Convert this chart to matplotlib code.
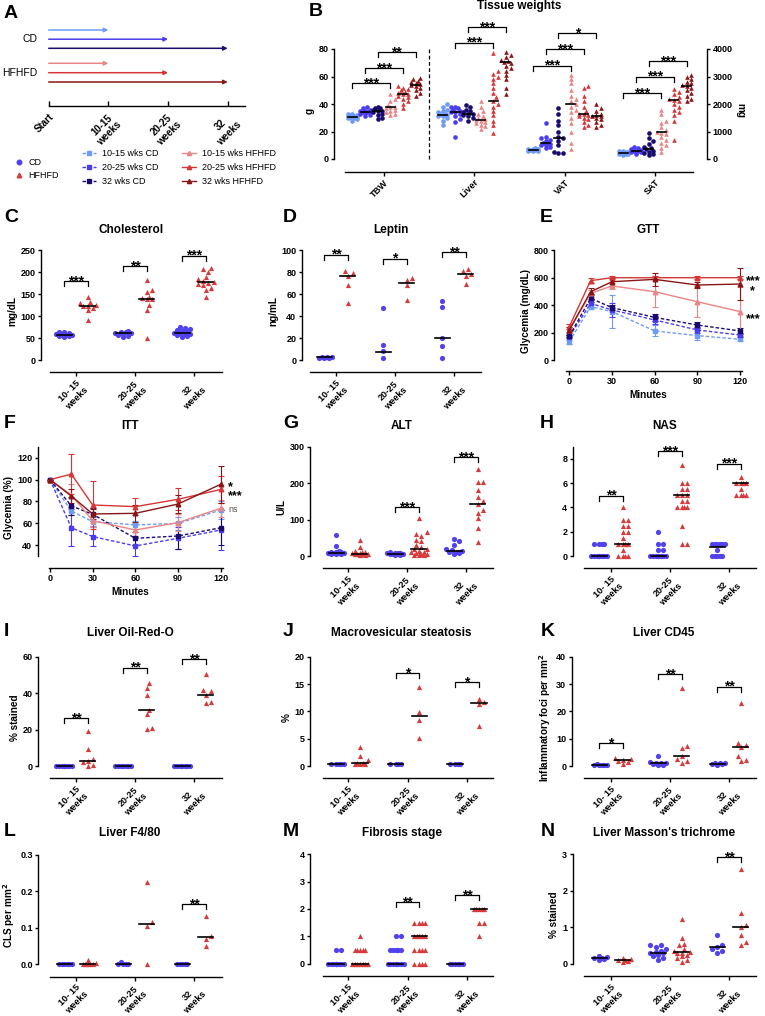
import numpy as np
import matplotlib.pyplot as plt
from matplotlib.lines import Line2D

plt.rcParams['font.family'] = ['Liberation Sans', 'DejaVu Sans']
plt.rcParams['font.weight'] = 'bold'
plt.rcParams['axes.labelweight'] = 'bold'
plt.rcParams['axes.linewidth'] = 1.0
plt.rcParams['xtick.major.width'] = 1.0
plt.rcParams['ytick.major.width'] = 1.0
plt.rcParams['xtick.labelsize'] = 6.5
plt.rcParams['ytick.labelsize'] = 6.5
plt.rcParams['ytick.major.size'] = 2.4
plt.rcParams['xtick.major.size'] = 3
plt.rcParams['ytick.major.pad'] = 1.5
plt.rcParams['xtick.major.pad'] = 1.2

W, H = 765, 1016

# colours
C_CD10, C_CD20, C_CD32 = '#6f9bf5', '#4b3cf0', '#1a0c6e'
C_HF10, C_HF20, C_HF32 = '#e98585', '#d53636', '#8a1515'
C_CD, C_HF = '#5142ee', '#d63a3a'

groups = ['10- 15\nweeks', '20-25\nweeks', '32\nweeks']
series_names = ['10-15 wks CD', '20-25 wks CD', '32 wks CD',
                '10-15 wks HFHFD', '20-25 wks HFHFD', '32 wks HFHFD']

# ---------------- A: timeline
a_ticks = ['Start', '10-15\nweeks', '20-25\nweeks', '32\nweeks']
a_ends = [1, 2, 3]

# ---------------- B: tissue weights (TBW in g, others in mg)
b_cats = ['TBW', 'Liver', 'VAT', 'SAT']
b_tbw = [[28, 29, 29.5, 30, 30, 30.5, 30.5, 31, 31, 31.5, 32, 32, 33, 33],
         [31, 32, 33, 33.5, 34, 34, 34.5, 35, 35, 36, 37, 38],
         [29, 30, 32, 33, 34, 35, 35, 36, 37, 37, 38],
         [32, 33, 34, 35, 36, 37, 37.5, 38, 39, 42, 44, 47],
         [37, 40, 42, 44, 45, 46, 47, 47.5, 48, 49, 50, 51, 52, 53],
         [46, 48, 50, 52, 53, 54, 54.5, 55, 56, 57, 58, 59]]
b_liver = [[1250, 1400, 1500, 1550, 1575, 1600, 1625, 1650, 1700, 1750, 1800, 1900, 2000],
           [800, 1350, 1450, 1550, 1650, 1700, 1700, 1750, 1800, 1850, 1900, 1900],
           [1400, 1500, 1550, 1600, 1650, 1650, 1700, 1750, 1800, 1900, 1950],
           [1100, 1200, 1250, 1300, 1350, 1400, 1425, 1450, 1500, 1550, 1650, 1750, 1900, 2100],
           [950, 1250, 1400, 1600, 1750, 1900, 2000, 2125, 2250, 2400, 2600, 2750, 2900, 3000, 3100, 3200, 3850],
           [2350, 2600, 2900, 3050, 3200, 3300, 3400, 3500, 3525, 3550, 3600, 3700, 3800, 3900]]
b_vat = [[275, 300, 300, 325, 325, 350, 350, 375, 400],
         [400, 450, 500, 525, 550, 600, 600, 650, 700, 750, 800, 1300],
         [225, 225, 250, 500, 650, 750, 800, 1000, 1250, 1400, 1650, 1850],
         [350, 600, 1000, 1300, 1500, 1700, 1800, 1900, 2000, 2100, 2200, 2300, 2500, 2750, 2900, 3050],
         [1150, 1250, 1350, 1450, 1500, 1550, 1600, 1625, 1650, 1750, 1900, 2100, 2300, 2600, 2650],
         [1150, 1250, 1350, 1450, 1500, 1550, 1550, 1600, 1650, 1750, 1850, 2000]]
b_sat = [[150, 175, 200, 200, 225, 225, 250, 250, 275, 300],
         [200, 250, 250, 275, 300, 300, 325, 350, 400, 450],
         [150, 200, 225, 250, 300, 350, 400, 450, 550, 650, 750, 950],
         [250, 400, 500, 600, 700, 800, 900, 950, 1000, 1050, 1150, 1300, 1400, 1650, 1800],
         [700, 1400, 1600, 1700, 1800, 1900, 2000, 2100, 2150, 2200, 2250, 2350, 2450, 2550],
         [2100, 2200, 2300, 2400, 2500, 2600, 2650, 2700, 2750, 2800, 2900, 3000, 3050]]
b_med = [[30.5, 34, 35, 37.5, 47.5, 54],
         [1600, 1700, 1650, 1425, 2125, 3525],
         [325, 600, 750, 2000, 1625, 1550],
         [225, 300, 350, 1000, 2150, 2650]]
# brackets: (category, group from, group to, height, stars)
b_brk = [(0, 0, 3, 55, '***'), (0, 1, 4, 66, '***'), (0, 2, 5, 77.6, '**'),
         (1, 1, 4, 4230, '***'), (1, 2, 5, 4790, '***'),
         (2, 0, 3, 3390, '***'), (2, 1, 4, 3990, '***'), (2, 2, 5, 4570, '*'),
         (3, 0, 3, 2400, '***'), (3, 1, 4, 2990, '***'), (3, 2, 5, 3570, '***')]

# ---------------- C: cholesterol
chol_cd = [[52, 54, 55, 56, 57, 58, 60, 62, 63, 63],
           [52, 55, 58, 60, 62, 62, 63, 64, 65],
           [52, 55, 57, 59, 60, 62, 62, 64, 66, 68, 70, 73, 76]]
chol_hf = [[91, 114, 118, 122, 124, 126, 129, 133, 143],
           [51, 115, 125, 138, 140, 142, 143, 156, 160, 182],
           [143, 160, 165, 170, 173, 175, 178, 180, 185, 190, 200, 207, 209]]
chol_cd_med = [58, 62, 62]
chol_hf_med = [124, 140, 178]
chol_brk = [(180, '***'), (214, '**'), (238, '***')]

# ---------------- D: leptin
lep_cd = [[1.5, 2, 2, 2.5, 3, 3], [2, 8, 14, 47], [1.5, 13, 20, 48, 54]]
lep_hf = [[52, 68, 77, 79, 81], [55, 68, 73, 75], [69, 77, 78.5, 81, 82.5]]
lep_cd_med = [2.5, 7, 20]
lep_hf_med = [77, 70.5, 78.5]
lep_brk = [(96, '**'), (92.5, '*'), (98, '**')]

# ---------------- E: GTT
t_min = [0, 15, 30, 60, 90, 120]
gtt_mean = [[134, 389, 353, 212, 178, 151],
            [170, 413, 365, 292, 219, 182],
            [175, 450, 382, 311, 255, 212],
            [219, 486, 540, 498, 425, 353],
            [243, 579, 600, 600, 600, 600],
            [219, 498, 571, 588, 547, 554]]
gtt_err = [[15, 20, 120, 40, 30, 15],
           [10, 30, 50, 30, 20, 15],
           [10, 30, 20, 25, 20, 20],
           [20, 25, 20, 115, 115, 180],
           [20, 20, 10, 10, 10, 10],
           [20, 25, 30, 50, 20, 120]]
# significance labels at 120 min: (value, text)
gtt_sig = [(578, '***\n*'), (340, '***')]

# ---------------- F: ITT
itt_mean = [[100, 71.3, 61.6, 58.6, 60, 72.2],
            [100, 56, 48, 39.4, 46.4, 54],
            [100, 76, 68.3, 46.4, 48.5, 56],
            [100, 86, 62.5, 54, 60.7, 73.8],
            [100, 105, 76.8, 75.3, 82, 91],
            [100, 85, 68.6, 69.2, 77.7, 95.7]]
itt_err = [[0, 4, 4, 4, 6, 8],
           [0, 17, 9, 9, 10, 18],
           [0, 8, 6, 6, 12, 16],
           [0, 10, 6, 6, 8, 8],
           [0, 18, 22, 8, 10, 12],
           [0, 6, 5, 8, 8, 17]]
itt_sig = [(94.2, '*\n***'), (73, 'ns')]

# ---------------- G: ALT
alt_cd = [[5, 5, 6, 7, 8, 8, 9, 10, 10, 12, 15, 28, 57],
          [3, 4, 5, 5, 6, 6, 7, 7, 8, 9, 10],
          [5, 7, 10, 12, 14, 16, 20, 30, 40, 48]]
alt_hf = [[3, 4, 5, 5, 6, 6, 7, 8, 10, 12, 15, 25, 45],
          [2, 3, 4, 5, 6, 8, 10, 12, 15, 18, 20, 25, 30, 40, 45, 55, 60, 65, 105],
          [39, 76, 103, 117, 126, 142, 150, 161, 181, 204, 204, 240]]
alt_cd_med = [8, 6, 14]
alt_hf_med = [6, 18, 142]
alt_brk = [None, (135, '***'), (272, '***')]

# ---------------- H: NAS
nas_cd = [[0, 0, 0, 0, 0, 0, 0, 0, 0, 1, 1, 1, 1],
          [0, 0, 0, 0, 0, 0, 0, 0, 0.5, 0.5, 1, 1, 2],
          [0, 0, 0, 0, 0, 0.5, 1, 1, 1, 1, 1, 1]]
nas_hf = [[0, 0, 0, 0, 0.5, 1, 1, 1, 1, 1.5, 2, 2, 2.5, 2.5, 3, 3, 4],
          [1, 1, 2.5, 4, 4, 4, 4, 4.5, 4.5, 5, 5, 5, 5.5, 5.5, 6, 6, 7.5],
          [5, 5, 5, 5, 5.5, 6, 6, 6, 6, 6.5]]
nas_cd_med = [0, 0, 0.75]
nas_hf_med = [1, 5, 6]
nas_brk = [(4.96, '**'), (8.6, '***'), (7.6, '***')]

# ---------------- I: Oil-Red-O
oro_cd = [[0] * 8, [0] * 7, [0] * 7]
oro_hf = [[0, 0.5, 2, 3, 4, 9.5, 19],
          [20.5, 21, 28.5, 31, 39, 43, 45.5],
          [34.5, 35, 39, 41, 41.5, 50.5]]
oro_cd_med = [0, 0, 0]
oro_hf_med = [3, 31, 39]
oro_brk = [(26.2, '**'), (54, '**'), (58.6, '**')]

# ---------------- J: macrovesicular steatosis
mac_cd = [[0.3, 0.3, 0.4, 0.4, 0.4], [0.3, 0.4, 0.4, 0.4], [0.4, 0.4, 0.4, 0.4]]
mac_hf = [[0.3, 0.3, 0.3, 0.5, 0.6, 1.1, 1.9, 3.4],
          [5.1, 8.4, 9.8, 14.4],
          [7.4, 11.3, 11.7, 12.3]]
mac_cd_med = [0.4, 0.4, 0.4]
mac_hf_med = [0.6, 9.1, 11.5]
mac_brk = [None, (17, '*'), (15.4, '*')]

# ---------------- K: CD45
cd45_cd = [[0.2, 0.3, 0.4, 0.5, 0.5, 0.6],
           [0.3, 0.5, 0.8, 1, 1, 1.2, 1.5, 3.5],
           [0.5, 0.7, 0.8, 1, 1, 1.2]]
cd45_hf = [[0.8, 1.5, 2, 2.2, 2.5, 3],
           [1.2, 2, 2.5, 3.8, 6.5, 7.5, 28.5],
           [2, 2.2, 3.5, 6.8, 7.8, 8.3, 23.2]]
cd45_cd_med = [0.5, 1, 0.9]
cd45_hf_med = [2.1, 3.8, 6.8]
cd45_brk = [(8.3, '*'), (33.5, '**'), (29, '**')]

# ---------------- L: F4/80
f480_cd = [[0] * 6, [0, 0, 0, 0, 0.005], [0] * 5]
f480_hf = [[0, 0, 0, 0, 0, 0.003, 0.013],
           [0, 0.106, 0.116, 0.226],
           [0.051, 0.069, 0.078, 0.132]]
f480_cd_med = [0, 0, 0]
f480_hf_med = [0, 0.111, 0.074]
f480_brk = [None, None, (0.165, '**')]

# ---------------- M: fibrosis stage
fib_cd = [[0] * 10 + [0.5, 0.5], [0] * 8 + [0.5] * 5 + [1, 1], [0] * 6]
fib_hf = [[0] * 7 + [0.5] * 5 + [1],
          [0] * 4 + [0.5] * 4 + [1] * 5 + [1.5] * 4,
          [1, 1.5, 1.5, 2, 2, 2, 2, 2]]
fib_cd_med = [0, 0, 0]
fib_hf_med = [0, 1, 2]
fib_brk = [None, (2.25, '**'), (2.5, '**')]

# ---------------- N: Masson's trichrome
mas_cd = [[0.1, 0.12, 0.15, 0.15, 0.18, 0.2],
          [0.1, 0.15, 0.2, 0.25, 0.28, 0.3, 0.32, 0.35, 0.4, 0.45, 0.5, 0.52],
          [0.3, 0.35, 0.4, 0.45, 0.5, 0.8]]
mas_hf = [[0.05, 0.08, 0.1, 0.1, 0.12, 0.15],
          [0.05, 0.1, 0.15, 0.2, 0.25, 0.28, 0.3, 0.32, 0.35, 0.4, 0.5, 0.55, 0.7, 1.22],
          [0.5, 0.6, 0.8, 1.0, 1.05, 1.4, 2.6]]
mas_cd_med = [0.15, 0.3, 0.45]
mas_hf_med = [0.1, 0.31, 1.02]
mas_brk = [None, None, (2.92, '**')]

series_col = [C_CD10, C_CD20, C_CD32, C_HF10, C_HF20, C_HF32]
series_mk = ['s', 's', 's', '^', '^', '^']
DASH = (0, (2.5, 1.5))
series_ls = [DASH, DASH, DASH, '-', '-', '-']

fig = plt.figure(figsize=(W / 100, H / 100), dpi=100)


def axes_px(l, r, top, bot, xa, xb, ya, yb):
    ax = fig.add_axes([l / W, 1 - bot / H, (r - l) / W, (bot - top) / H])
    fx = lambda p: xa[1] + (p - xa[0]) * (xb[1] - xa[1]) / (xb[0] - xa[0])
    fy = lambda p: ya[1] + (p - ya[0]) * (yb[1] - ya[1]) / (yb[0] - ya[0])
    ax.set_xlim(fx(l), fx(r))
    ax.set_ylim(fy(bot), fy(top))
    ax.spines['top'].set_visible(False)
    ax.spines['right'].set_visible(False)
    return ax, fx, fy


def swarm(vals, upx, spx, d=4.8, wmax=9.0):
    # simple beeswarm: horizontal offsets (data units) so markers don't overlap
    cands = [0.0]
    step = d * 0.55
    k = 1
    while k * step <= wmax:
        cands += [k * step, -k * step]
        k += 1
    placed, offs = [], []
    for v in vals:
        y = v * upx
        best, bestd = 0.0, -1
        for c in cands:
            md = min([np.hypot(c - px, y - py) for px, py in placed] + [1e9])
            if md >= d * 0.95:
                best = c
                break
            if md > bestd:
                best, bestd = c, md
        placed.append((best, y))
        offs.append(best / spx)
    return np.array(offs)


def letter(x, y, s):
    fig.text(x / W, 1 - y / H, s, fontsize=14, weight='bold', ha='left', va='center')


def title(ax, y, s):
    bb = ax.get_position()
    fig.text((bb.x0 + bb.x1) / 2, 1 - y / H, s, fontsize=8.5, weight='bold',
             ha='center', va='center')


def bracket(ax, x1, x2, h, txt, u):
    dh = 5.0 / u
    ax.plot([x1, x1, x2, x2], [h - dh, h, h, h - dh], color='k', lw=0.9, clip_on=False)
    ax.annotate(txt, xy=((x1 + x2) / 2, h), xytext=(0, -3), textcoords='offset points',
                ha='center', va='baseline', fontsize=10, annotation_clip=False)


def cat_labels(ax, labels, fs=6.6):
    ax.set_xticks(range(len(labels)))
    ax.set_xticklabels(labels, rotation=45, ha='right', va='top', rotation_mode='anchor',
                       multialignment='center', fontsize=fs)


def dot_panel(lay, cd, hf, cd_med, hf_med, brk, yticks, ylab, ttl, let, fmt='{:g}',
              spine_top=None):
    yx, t1, t3, xl, xr, ytop, y0, xly, ymax = lay
    s = (t3 - t1) / 2.0
    u = (y0 - ytop) / ymax
    top_val = ymax if spine_top is None else spine_top
    top_px = y0 - top_val * u
    ax, fx, fy = axes_px(yx, xr, top_px, xly, (t1, 0), (t3, 2), (y0, 0), (ytop, ymax))
    ax.spines['left'].set_bounds(0, top_val)
    ax.spines['bottom'].set_bounds(fx(xl), fx(xr))
    ax.set_yticks(yticks)
    ax.set_yticklabels([fmt.format(v) for v in yticks])
    cat_labels(ax, groups)
    for i in range(3):
        for vals, med, off, col, mk in [(cd[i], cd_med[i], -0.2, C_CD, 'o'),
                                        (hf[i], hf_med[i], 0.2, C_HF, '^')]:
            v = np.array(vals, float)
            ax.scatter(i + off + swarm(v, u, s), v, s=14, color=col, marker=mk, lw=0,
                       clip_on=False, zorder=3)
            ax.plot([i + off - 0.13, i + off + 0.13], [med, med], color='k', lw=1.2,
                    zorder=4, clip_on=False)
        if brk[i] is not None:
            bracket(ax, i - 0.2, i + 0.2, brk[i][0], brk[i][1], u)
    ax.set_ylabel(ylab, fontsize=7.2, labelpad=2)
    title(ax, ttl[1], ttl[0])
    letter(let[1], let[2], let[0])
    return ax


def time_panel(ax, means, errs):
    for m, e, c, mk, ls in zip(means, errs, series_col, series_mk, series_ls):
        ax.errorbar(t_min, m, yerr=e, color=c, marker=mk, ms=3.3, lw=1.0, ls=ls,
                    capsize=2.2, elinewidth=0.8, capthick=0.8, clip_on=False)
    ax.set_xticks([0, 30, 60, 90, 120])
    ax.set_xlabel('Minutes', fontsize=7.2, labelpad=3)


# ================= A
axa, fxa, fya = axes_px(40, 250, 20, 106, (48.7, 0), (227.7, 3), (20, 20), (106, 106))
axa.spines['left'].set_visible(False)
axa.spines['bottom'].set_bounds(0, fxa(245))
axa.set_yticks([])
axa.set_xticks(range(4))
axa.set_xticklabels(a_ticks, rotation=45, ha='right', va='top', rotation_mode='anchor',
                    multialignment='center', fontsize=7)
axa.tick_params(axis='x', direction='in', length=3.6, pad=4)
rows_cd = [30, 39.2, 48.3]
rows_hf = [63.3, 72.7, 82]
for end, yr, c in zip(a_ends, rows_cd, [C_CD10, C_CD20, C_CD32]):
    axa.annotate('', xy=(end, yr), xytext=(0, yr),
                 arrowprops=dict(arrowstyle='-|>', color=c, lw=1.1, mutation_scale=6,
                                 shrinkA=0, shrinkB=0))
for end, yr, c in zip(a_ends, rows_hf, [C_HF10, C_HF20, C_HF32]):
    axa.annotate('', xy=(end, yr), xytext=(0, yr),
                 arrowprops=dict(arrowstyle='-|>', color=c, lw=1.1, mutation_scale=6,
                                 shrinkA=0, shrinkB=0))
axa.text(fxa(37.5), rows_cd[1], 'CD', ha='right', va='center', fontsize=7.5,
         weight='normal', clip_on=False)
axa.text(fxa(37.5), rows_hf[1], 'HFHFD', ha='right', va='center', fontsize=7.5,
         weight='normal', clip_on=False)
letter(4, 13, 'A')

h1 = [Line2D([], [], ls='none', marker='o', color=C_CD, ms=3.3),
      Line2D([], [], ls='none', marker='^', color=C_HF, ms=3.3)]
fig.legend(h1, ['CD', 'HFHFD'], loc='upper left', bbox_to_anchor=(14 / W, 1 - 158 / H),
           frameon=False, prop={'weight': 'normal', 'size': 6.5}, handlelength=1.0,
           handletextpad=0.6, labelspacing=0.45, borderpad=0, borderaxespad=0)
h2 = [Line2D([], [], ls=ls, marker=mk, color=c, ms=3, lw=1.0)
      for c, mk, ls in zip(series_col, series_mk, series_ls)]
fig.legend(h2, series_names, loc='upper left', bbox_to_anchor=(82 / W, 1 - 149 / H),
           ncol=2, frameon=False, prop={'weight': 'normal', 'size': 6.5}, handlelength=1.6,
           handletextpad=0.6, labelspacing=0.55, columnspacing=2.6, borderpad=0,
           borderaxespad=0)

# ================= B
axb, fxb, fyb = axes_px(334, 707, 49, 172, (384, 0), (474.33, 1), (159, 0), (49, 80))
axm = axb.twinx()
lo, hi = axb.get_ylim()
axm.set_ylim(lo * 50, hi * 50)
axb.spines['left'].set_bounds(0, 80)
axb.spines['bottom'].set_bounds(fxb(345), fxb(693))
axm.spines['right'].set_bounds(0, 4000)
for sp in ['left', 'top', 'bottom']:
    axm.spines[sp].set_visible(False)
axb.set_yticks([0, 20, 40, 60, 80])
axm.set_yticks([0, 1000, 2000, 3000, 4000])
axm.tick_params(axis='y', length=2.4, pad=1.5)
cat_labels(axb, b_cats)
axb.set_ylabel('g', fontsize=7.2, labelpad=3)
axm.set_ylabel('mg', fontsize=7.2, rotation=270, labelpad=9)
axb.plot([0.5, 0.5], [0, 80], color='k', lw=0.9, ls=(0, (3, 2)))
b_data = [b_tbw, b_liver, b_vat, b_sat]
b_off = (np.arange(6) - 2.5) * 0.14
sb = 90.33
for k in range(4):
    axk = axb if k == 0 else axm
    u = 110 / 80 if k == 0 else 110 / 4000
    for g in range(6):
        v = np.array(b_data[k][g], float)
        xs = k + b_off[g] + swarm(v, u, sb, d=4.2, wmax=5.5)
        axk.scatter(xs, v, s=11, color=series_col[g], marker='o' if g < 3 else '^', lw=0,
                    zorder=3, clip_on=False)
        axk.plot([k + b_off[g] - 0.05, k + b_off[g] + 0.05], [b_med[k][g]] * 2,
                 color='k', lw=1.2, zorder=4)
for k, g1, g2, h, txt in b_brk:
    axk = axb if k == 0 else axm
    u = 110 / 80 if k == 0 else 110 / 4000
    bracket(axk, k + b_off[g1], k + b_off[g2], h, txt, u)
fig.text(519 / W, 1 - 6 / H, 'Tissue weights', fontsize=8.5,
         weight='bold', ha='center', va='center')
letter(309, 12, 'B')

# ================= C, D
dot_panel((40.7, 76, 194, 50, 222, 250.3, 360, 372, 250), chol_cd, chol_hf,
          chol_cd_med, chol_hf_med, chol_brk, range(0, 251, 50), 'mg/dL',
          ('Cholesterol', 230), ('C', 4, 217))
dot_panel((301.7, 336, 454, 310, 481, 250.3, 360, 372, 100), lep_cd, lep_hf,
          lep_cd_med, lep_hf_med, lep_brk, range(0, 101, 20), 'ng/mL',
          ('Leptin', 230), ('D', 283, 217))

# ================= E
axe, fxe, fye = axes_px(554.3, 742, 250.3, 371.3, (569.3, 0), (740, 120), (360, 0),
                       (250.3, 800))
axe.spines['left'].set_bounds(0, 800)
axe.spines['bottom'].set_bounds(fxe(566), fxe(742))
time_panel(axe, gtt_mean, gtt_err)
axe.set_yticks(range(0, 801, 200))
axe.set_ylabel('Glycemia (mg/dL)', fontsize=7.2, labelpad=2)
for val, txt in gtt_sig:
    axe.annotate(txt, xy=(120, val), xytext=(4, -4), textcoords='offset points',
                 ha='left', va='center', multialignment='center', linespacing=0.74,
                 fontsize=9, annotation_clip=False)
title(axe, 230, 'GTT')
letter(540, 217, 'E')

# ================= F
axf, fxf, fyf = axes_px(37.7, 222.7, 446.7, 568.3, (50, 0), (220.7, 120), (545.3, 40),
                       (457.7, 120))
axf.spines['left'].set_bounds(30, 130)
axf.spines['bottom'].set_bounds(fxf(49.3), fxf(222.7))
time_panel(axf, itt_mean, itt_err)
axf.set_yticks(range(40, 121, 20))
axf.set_ylabel('Glycemia (%)', fontsize=7.2, labelpad=2)
for val, txt in itt_sig:
    if txt == 'ns':
        axf.annotate(txt, xy=(120, val), xytext=(5.5, 0), textcoords='offset points',
                     ha='left', va='center', fontsize=6.5, weight='normal', color='#555555',
                     annotation_clip=False)
    else:
        axf.annotate(txt, xy=(120, val), xytext=(5.5, -4), textcoords='offset points',
                     ha='left', va='center', multialignment='left', linespacing=0.72,
                     fontsize=9, annotation_clip=False)
title(axf, 426, 'ITT')
letter(4, 424, 'F')

# ================= G, H
dot_panel((310, 348, 466, 322.7, 493, 446.7, 556, 568.3, 300), alt_cd, alt_hf,
          alt_cd_med, alt_hf_med, alt_brk, range(0, 301, 100), 'U/L',
          ('ALT', 426), ('G', 283, 424))
dot_panel((572.7, 611, 729, 584, 756, 458.7, 556, 568.3, 8), nas_cd, nas_hf,
          nas_cd_med, nas_hf_med, nas_brk, range(0, 9, 2), '',
          ('NAS', 426), ('H', 540, 424), spine_top=9)

# ================= I, J, K
dot_panel((38.3, 76, 194, 50, 222, 656.7, 766, 778.3, 60), oro_cd, oro_hf,
          oro_cd_med, oro_hf_med, oro_brk, range(0, 61, 20), '% stained',
          ('Liver Oil-Red-O', 633), ('I', 4, 631))
dot_panel((310, 348, 467, 322.7, 493, 656.7, 766, 778.3, 20), mac_cd, mac_hf,
          mac_cd_med, mac_hf_med, mac_brk, range(0, 21, 5), '%',
          ('Macrovesicular steatosis', 633), ('J', 283, 631))
dot_panel((571.7, 611, 729, 584, 756, 656.7, 766, 778.3, 40), cd45_cd, cd45_hf,
          cd45_cd_med, cd45_hf_med, cd45_brk, range(0, 41, 10),
          'Inflammatory foci per mm$^2$', ('Liver CD45', 633), ('K', 541, 631))

# ================= L, M, N
dot_panel((38.3, 76, 194, 50, 222, 855, 964.3, 976.7, 0.3), f480_cd, f480_hf,
          f480_cd_med, f480_hf_med, f480_brk, [0, 0.1, 0.2, 0.3], 'CLS per mm$^2$',
          ('Liver F4/80', 833), ('L', 4, 832), fmt='{:.1f}')
dot_panel((310, 348, 467, 322.7, 493, 854.3, 963.7, 976, 4), fib_cd, fib_hf,
          fib_cd_med, fib_hf_med, fib_brk, range(0, 5), '',
          ('Fibrosis stage', 833), ('M', 283, 832))
dot_panel((572.7, 611, 729, 584, 756, 854.3, 963.7, 976, 3), mas_cd, mas_hf,
          mas_cd_med, mas_hf_med, mas_brk, range(0, 4), '% stained',
          ("Liver Masson's trichrome", 833), ('N', 541, 832))

fig.savefig('out.png', dpi=100)
